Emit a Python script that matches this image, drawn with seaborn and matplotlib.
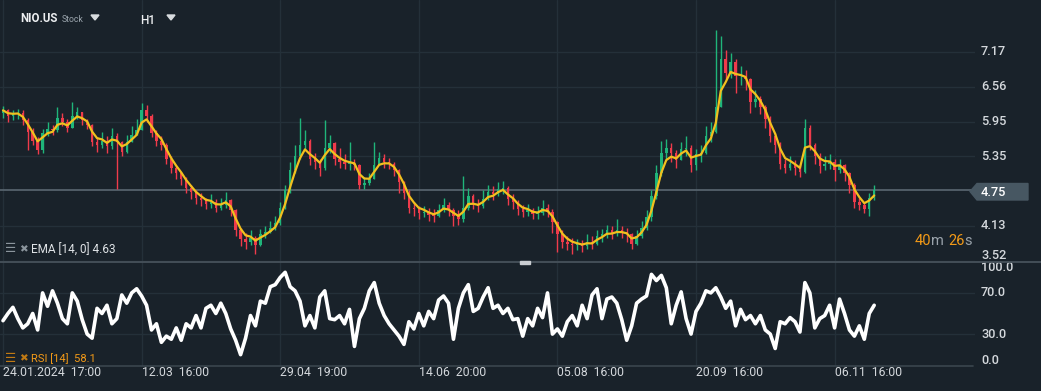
import numpy as np
import pandas as pd
import matplotlib.pyplot as plt
import seaborn as sns
from matplotlib.patches import Polygon, Rectangle
from matplotlib.lines import Line2D

# candle data (one bar per ~10 trading hours)
close = [
    6.15, 6.05, 6.08, 6.10, 5.98, 5.78, 5.62, 5.45, 5.75, 5.82,
    5.80, 6.02, 5.95, 5.85, 6.05, 6.12, 5.98, 5.90, 5.60, 5.55,
    5.62, 5.52, 5.70, 5.60, 5.42, 5.60, 5.72, 5.80, 6.15, 6.05,
    5.75, 5.62, 5.55, 5.30, 5.15, 5.05, 4.95, 4.80, 4.72, 4.62,
    4.58, 4.52, 4.55, 4.45, 4.50, 4.58, 4.40, 4.05, 3.90, 3.85,
    3.92, 3.80, 3.98, 4.02, 4.10, 4.18, 4.45, 4.75, 5.10, 5.35,
    5.55, 5.62, 5.30, 5.25, 5.15, 5.50, 5.58, 5.30, 5.25, 5.22,
    5.22, 5.20, 4.85, 4.88, 4.95, 5.20, 5.32, 5.25, 5.22, 5.10,
    4.90, 4.70, 4.45, 4.42, 4.35, 4.38, 4.32, 4.30, 4.40, 4.50,
    4.40, 4.30, 4.25, 4.45, 4.65, 4.52, 4.48, 4.60, 4.72, 4.68,
    4.78, 4.80, 4.60, 4.55, 4.42, 4.38, 4.40, 4.33, 4.35, 4.45,
    4.38, 4.20, 3.98, 3.85, 3.82, 3.80, 3.80, 3.78, 3.85, 3.82,
    3.95, 3.98, 4.05, 4.00, 4.05, 4.02, 3.98, 3.82, 3.95, 4.10,
    4.28, 4.65, 5.05, 5.40, 5.50, 5.40, 5.28, 5.48, 5.50, 5.20,
    5.38, 5.40, 5.70, 5.78, 6.20, 7.05, 6.80, 7.00, 6.75, 6.75,
    6.70, 6.30, 6.35, 6.20, 6.00, 5.70, 5.55, 5.22, 5.15, 5.22,
    5.15, 5.08, 5.85, 5.55, 5.35, 5.18, 5.22, 5.25, 5.10, 5.20,
    5.05, 4.85, 4.55, 4.50, 4.42, 4.62, 4.75]
high = [
    6.22, 6.18, 6.15, 6.18, 6.15, 6.02, 5.85, 5.68, 5.82, 5.95,
    5.90, 6.20, 6.10, 6.00, 6.30, 6.20, 6.12, 6.00, 5.92, 5.68,
    5.78, 5.70, 5.85, 5.75, 5.62, 5.72, 5.88, 6.00, 6.28, 6.25,
    6.08, 5.80, 5.70, 5.58, 5.35, 5.18, 5.08, 4.98, 4.85, 4.75,
    4.70, 4.62, 4.68, 4.60, 4.62, 4.72, 4.60, 4.42, 4.10, 4.00,
    4.05, 3.95, 4.08, 4.12, 4.22, 4.30, 4.55, 4.85, 5.25, 5.55,
    6.02, 5.80, 5.65, 5.40, 5.30, 5.98, 5.72, 5.60, 5.50, 5.38,
    5.60, 5.30, 5.22, 4.98, 5.05, 5.60, 5.42, 5.38, 5.32, 5.25,
    5.12, 4.92, 4.75, 4.55, 4.48, 4.48, 4.45, 4.42, 4.52, 4.62,
    4.55, 4.45, 4.40, 5.00, 4.80, 4.68, 4.60, 4.75, 4.85, 4.82,
    4.90, 4.92, 4.82, 4.68, 4.58, 4.50, 4.52, 4.45, 4.48, 4.58,
    4.52, 4.42, 4.22, 4.05, 3.95, 3.92, 3.90, 3.88, 3.98, 3.95,
    4.05, 4.08, 4.15, 4.12, 4.25, 4.12, 4.10, 4.00, 4.05, 4.22,
    4.40, 4.75, 5.20, 5.62, 5.65, 5.58, 5.45, 5.60, 5.70, 5.55,
    5.48, 5.55, 5.88, 5.95, 7.55, 7.45, 7.20, 7.15, 7.05, 6.92,
    6.85, 6.72, 6.50, 6.40, 6.25, 6.05, 5.75, 5.60, 5.30, 5.35,
    5.28, 5.22, 6.00, 5.90, 5.58, 5.40, 5.35, 5.38, 5.30, 5.30,
    5.22, 5.08, 4.88, 4.62, 4.55, 4.70, 4.85]
low = [
    6.02, 5.95, 5.98, 6.00, 5.90, 5.45, 5.55, 5.38, 5.40, 5.70,
    5.72, 5.78, 5.88, 5.78, 5.85, 6.00, 5.90, 5.82, 5.52, 5.42,
    5.50, 5.40, 5.48, 4.78, 5.35, 5.40, 5.65, 5.72, 5.80, 5.95,
    5.68, 5.52, 5.45, 5.22, 5.05, 4.95, 4.85, 4.70, 4.60, 4.52,
    4.48, 4.42, 4.45, 4.38, 4.40, 4.45, 4.30, 3.95, 3.78, 3.72,
    3.80, 3.63, 3.78, 3.92, 4.00, 4.05, 4.15, 4.42, 4.70, 5.05,
    5.30, 5.45, 5.20, 5.12, 5.00, 5.10, 5.40, 5.20, 5.15, 5.12,
    5.10, 5.10, 4.78, 4.78, 4.85, 4.95, 5.20, 5.15, 5.12, 5.00,
    4.70, 4.60, 4.35, 4.30, 4.25, 4.28, 4.22, 4.20, 4.28, 4.38,
    4.30, 4.12, 4.15, 4.20, 4.40, 4.42, 4.38, 4.45, 4.58, 4.58,
    4.65, 4.68, 4.50, 4.42, 4.32, 4.28, 4.30, 4.25, 4.25, 4.32,
    4.28, 4.00, 3.68, 3.75, 3.70, 3.64, 3.70, 3.68, 3.72, 3.72,
    3.80, 3.85, 3.92, 3.90, 3.95, 3.92, 3.85, 3.72, 3.80, 3.92,
    4.05, 4.22, 4.60, 5.00, 5.30, 5.25, 5.15, 5.30, 5.35, 5.08,
    5.10, 5.25, 5.38, 5.60, 5.75, 6.20, 6.70, 6.72, 6.45, 6.60,
    6.50, 6.10, 6.20, 6.08, 5.85, 5.60, 5.40, 5.12, 5.05, 5.10,
    5.02, 4.98, 5.05, 5.45, 5.22, 5.05, 5.10, 5.12, 4.92, 5.05,
    4.92, 4.70, 4.45, 4.40, 4.35, 4.30, 4.58]
rsi = [
    43, 50, 56, 45, 36, 40, 50, 34, 70, 57,
    72, 60, 45, 40, 70, 62, 44, 30, 26, 55,
    50, 58, 40, 45, 68, 60, 70, 74, 67, 58,
    34, 40, 22, 28, 25, 36, 24, 40, 36, 48,
    36, 55, 58, 50, 60, 50, 35, 24, 10, 26,
    48, 38, 62, 60, 76, 78, 85, 90, 76, 72,
    62, 38, 48, 36, 66, 72, 45, 44, 48, 40,
    54, 18, 45, 55, 72, 80, 60, 48, 40, 34,
    28, 20, 42, 35, 50, 38, 52, 45, 63, 67,
    60, 25, 55, 70, 78, 52, 55, 66, 75, 55,
    58, 50, 55, 44, 45, 28, 45, 38, 55, 46,
    70, 30, 35, 28, 42, 48, 38, 58, 45, 68,
    74, 45, 64, 66, 60, 44, 24, 38, 60, 64,
    67, 88, 82, 87, 75, 40, 58, 71, 45, 30,
    52, 60, 72, 70, 75, 66, 55, 62, 38, 54,
    44, 48, 40, 48, 34, 30, 16, 42, 40, 46,
    42, 32, 80, 70, 36, 45, 48, 58, 36, 64,
    50, 34, 28, 38, 25, 50, 58]
first_open = 6.10

tick_idx = [0, 28, 56, 84, 112, 140, 168]
tick_labels = ["24.01.2024  17:00", "12.03  16:00", "29.04  19:00", "14.06  20:00",
               "05.08  16:00", "20.09  16:00", "06.11  16:00"]
price_ticks = [7.17, 6.56, 5.95, 5.35, 4.13, 3.52]
rsi_ticks = [100.0, 70.0, 30.0, 0.0]
last_price = 4.75
ema_text = "EMA [14, 0] 4.63"
rsi_text = "RSI [14]  58.1"

df = pd.DataFrame({"close": close, "high": high, "low": low, "rsi": rsi})
df["idx"] = np.arange(len(df))
df["open"] = df["close"].shift(1).fillna(first_open)
df["high"] = df[["high", "open", "close"]].max(axis=1)
df["low"] = df[["low", "open", "close"]].min(axis=1)
df["ema"] = df["close"].ewm(span=3, adjust=False).mean()
up = df["close"] >= df["open"]

BG = "#19222a"
GRID = "#243039"
TXT = "#d4d8dc"
GREEN = "#1fb57a"
RED = "#ef3b4b"
EMA_C = "#f2c01e"
ORANGE = "#f39a17"

sns.set_theme(style="dark", rc={"axes.facecolor": BG, "figure.facecolor": BG,
                                "axes.edgecolor": BG})
plt.rcParams["font.family"] = ["Roboto", "DejaVu Sans"]

W, H = 1041, 391
fig = plt.figure(figsize=(W / 100, H / 100), dpi=100)


def fy(y):
    return 1 - y / H


def px_axes(l, t, r, b):
    return fig.add_axes([l / W, fy(b), (r - l) / W, (b - t) / H])


ax = px_axes(0, 0, 975, 261)
ax2 = px_axes(0, 262, 975, 366)
step = 4.95
xlim = (-3 / step, 972 / step)

# price panel
for p in price_ticks:
    ax.axhline(p, color=GRID, lw=1, zorder=0)
for t in tick_idx:
    ax.axvline(t, color=GRID, lw=1, zorder=0)
    ax2.axvline(t, color=GRID, lw=1, zorder=0)
ax.axhline(last_price, color="#55626c", lw=1.3, zorder=1)

colors = np.where(up, GREEN, RED)
ax.vlines(df["idx"], df["low"], df["high"], colors=colors, lw=1, zorder=2)
body = (df["close"] - df["open"]).abs().clip(lower=0.015)
ax.bar(df["idx"], body, bottom=df[["open", "close"]].min(axis=1), width=0.5,
       color=colors, linewidth=0, zorder=2)
sns.lineplot(data=df, x="idx", y="ema", ax=ax, color=EMA_C, lw=1.6, zorder=3)

ax.set_xlim(*xlim)
ax.set_ylim(7.17 - 209 / 57.2, 7.17 + 52 / 57.2)
ax.set_axis_off()

ytr = ax.get_yaxis_transform()
for p in price_ticks:
    yv = p + 0.09 if p == 3.52 else p
    ax.text(1 + 6 / 975, yv, f"{p:.2f}", transform=ytr, color=TXT, fontsize=9.2,
            fontweight="medium", va="center", ha="left", clip_on=False)

# current price tag
tag = Polygon([[970 / W, fy(191.5)], [977 / W, fy(183.5)], [1028 / W, fy(183.5)],
               [1028 / W, fy(200)], [977 / W, fy(200)]], closed=True,
              transform=fig.transFigure, color="#475762", zorder=5)
fig.add_artist(tag)
fig.text(981 / W, fy(192), f"{last_price:.2f}", color="white", fontsize=9.2,
         fontweight="medium", va="center", ha="left", zorder=6)

# RSI panel
for r in [70, 30]:
    ax2.axhline(r, color=GRID, lw=1, zorder=0)
sns.lineplot(data=df, x="idx", y="rsi", ax=ax2, color="white", lw=2.6, zorder=3)
ax2.set_xlim(*xlim)
ax2.set_ylim(-1, 100)
ax2.set_axis_off()
ytr2 = ax2.get_yaxis_transform()
for r in rsi_ticks:
    yv = {100.0: 94.5, 0.0: 4.0}.get(r, r)
    ax2.text(1 + 6 / 975, yv, f"{r:.1f}", transform=ytr2, color=TXT, fontsize=9.2,
             fontweight="medium", va="center", ha="left", clip_on=False)
xtr = ax2.get_xaxis_transform()
for t, lab in zip(tick_idx, tick_labels):
    ax2.text(t, -7 / 104, lab, transform=xtr, color=TXT, fontsize=8.8,
             va="center", ha="left", clip_on=False)

# separators
fig.add_artist(Line2D([0, 1], [fy(261.5)] * 2, transform=fig.transFigure,
                      color="#47525b", lw=1.3))
fig.add_artist(Line2D([0, 973 / W], [fy(366)] * 2, transform=fig.transFigure,
                      color="#3a454e", lw=1.2))
fig.add_artist(Rectangle((520 / W, fy(263.5)), 10 / W, 3 / H, transform=fig.transFigure,
                         color="#c9cdd1", zorder=6))

# header
fig.text(20 / W, fy(18), "NIO.US", color="#eceef0", fontsize=8.3, fontweight="bold",
         va="center", ha="left")
fig.text(62 / W, fy(19), "Stock", color="#9aa4ac", fontsize=6.3, va="center", ha="left")
fig.text(140 / W, fy(20), "H1", color="#eceef0", fontsize=8.5, fontweight="medium",
         va="center", ha="left")
for cx in [95, 171]:
    fig.add_artist(Polygon([[(cx - 4) / W, fy(15)], [(cx + 4) / W, fy(15)], [cx / W, fy(20)]],
                           closed=True, transform=fig.transFigure, color="#d8dcdf"))

# indicator legends
fig.text(5 / W, fy(249), "\u2630", color="#8b959d", fontsize=9, va="center", ha="left",
         family="DejaVu Sans", fontweight="bold")
fig.text(19 / W, fy(249), "\u2716", color="#8b959d", fontsize=7.5, va="center", ha="left",
         family="DejaVu Sans")
fig.text(31 / W, fy(250), ema_text, color="#dfe3e6", fontsize=8.5, va="center", ha="left")
fig.text(5 / W, fy(358), "\u2630", color="#c07a14", fontsize=9, va="center", ha="left",
         family="DejaVu Sans", fontweight="bold")
fig.text(19 / W, fy(358), "\u2716", color="#c07a14", fontsize=7.5, va="center", ha="left",
         family="DejaVu Sans")
fig.text(31 / W, fy(359), rsi_text, color=ORANGE, fontsize=8, va="center", ha="left")

# countdown
for x0, s, c in [(915, "40", ORANGE), (931, "m", "#9aa3ab"), (948, "26", ORANGE),
                 (964, "s", "#9aa3ab")]:
    fig.text(x0 / W, fy(241), s, color=c, fontsize=10.5, va="center", ha="left")

fig.savefig("out.png", dpi=100, facecolor=BG)
